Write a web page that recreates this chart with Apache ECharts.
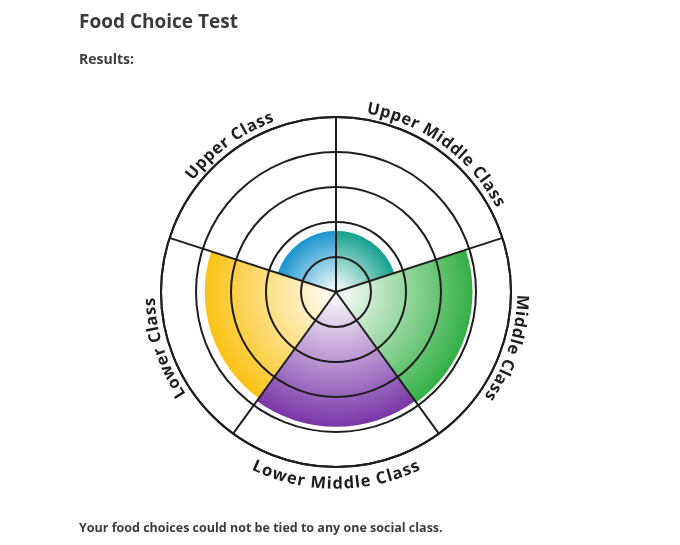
<!DOCTYPE html>
<html>
<head>
<meta charset="utf-8">
<script src="https://cdn.jsdelivr.net/npm/echarts@6/dist/echarts.min.js"></script>
<style>
  html, body { margin: 0; padding: 0; background: #ffffff; }
  #chart { width: 680px; height: 545px; }
</style>
</head>
<body>
<div id="chart"></div>
<script>
// ---- data ----
var categories = ['Upper Middle Class', 'Middle Class', 'Lower Middle Class', 'Lower Class', 'Upper Class'];
var scores = [1.75, 3.9, 3.85, 3.75, 1.75];
var radiusTicks = [0, 1, 2, 3, 4, 5];

// ---- styles ----
var sectorColors = ['#13a08d', '#33b045', '#7a36a8', '#fcc214', '#1994cf'];
var CX = 336, CY = 292, R = 175;
var LABEL_FONT = 'bold 16.5px "Open Sans"';
var INK = '#1e1e1e';

var chart = echarts.init(document.getElementById('chart'), null, { renderer: 'canvas' });

var maxR = radiusTicks[radiusTicks.length - 1];
var barData = scores.map(function (v, i) {
  return {
    value: v,
    itemStyle: {
      color: {
        type: 'radial', x: CX, y: CY, r: v / maxR * R, global: true,
        colorStops: [
          { offset: 0, color: '#ffffff' },
          { offset: 1, color: sectorColors[i] }
        ]
      }
    }
  };
});

var measureCtx = document.createElement('canvas').getContext('2d');
measureCtx.font = LABEL_FONT;

function renderArcLabel(params, api) {
  var idx = params.dataIndex;
  var cs = params.coordSys;
  var p = api.coord([maxR, idx]);
  var theta = Math.atan2(cs.cy - p[1], p[0] - cs.cx);
  var text = categories[idx];
  var flip = Math.sin(theta) < -0.5;
  var rText = cs.r + (flip ? 17 : 11);
  var spacing = 0.8;
  var widths = text.split('').map(function (ch) { return measureCtx.measureText(ch).width + spacing; });
  var total = widths.reduce(function (a, b) { return a + b; }, 0);
  var span = total / rText;
  var children = [];
  var cum = 0;
  for (var k = 0; k < text.length; k++) {
    var off = (cum + widths[k] / 2) / rText;
    var a = flip ? (theta - span / 2 + off) : (theta + span / 2 - off);
    cum += widths[k];
    children.push({
      type: 'text',
      x: cs.cx + rText * Math.cos(a),
      y: cs.cy - rText * Math.sin(a),
      rotation: flip ? a + Math.PI / 2 : a - Math.PI / 2,
      style: {
        text: text[k],
        font: LABEL_FONT,
        fill: INK,
        align: 'center',
        verticalAlign: 'middle'
      }
    });
  }
  return { type: 'group', children: children };
}

var option = {
  animation: false,
  backgroundColor: '#ffffff',
  title: [
    { text: 'Food Choice Test', left: 79, top: 13, padding: 0,
      textStyle: { fontFamily: 'Open Sans', fontWeight: 'bold', fontSize: 19, color: '#3b3b3b' } },
    { text: 'Results:', left: 79, top: 53, padding: 0,
      textStyle: { fontFamily: 'Open Sans', fontWeight: 'bold', fontSize: 14, color: '#3b3b3b' } },
    { text: 'Your food choices could not be tied to any one social class.', left: 79, top: 522, padding: 0,
      textStyle: { fontFamily: 'Open Sans', fontWeight: 'bold', fontSize: 12.5, color: '#3b3b3b' } }
  ],
  polar: { center: [CX, CY], radius: R },
  angleAxis: {
    type: 'category',
    data: categories,
    startAngle: 90,
    clockwise: true,
    z: 5,
    axisLine: { show: true, lineStyle: { color: INK, width: 2 } },
    axisTick: { show: false },
    axisLabel: { show: false },
    splitLine: { show: true, lineStyle: { color: INK, width: 2 } }
  },
  radiusAxis: {
    type: 'value',
    min: radiusTicks[0],
    max: maxR,
    interval: 1,
    z: 5,
    axisLine: { show: false },
    axisTick: { show: false },
    axisLabel: { show: false },
    splitLine: { show: true, lineStyle: { color: INK, width: 2 } }
  },
  series: [
    {
      type: 'bar',
      coordinateSystem: 'polar',
      barCategoryGap: '0%',
      z: 2,
      data: barData
    },
    {
      type: 'custom',
      coordinateSystem: 'polar',
      z: 6,
      silent: true,
      data: categories.map(function (c, i) { return [maxR, i]; }),
      renderItem: renderArcLabel
    }
  ]
};
chart.setOption(option);
</script>
</body>
</html>
